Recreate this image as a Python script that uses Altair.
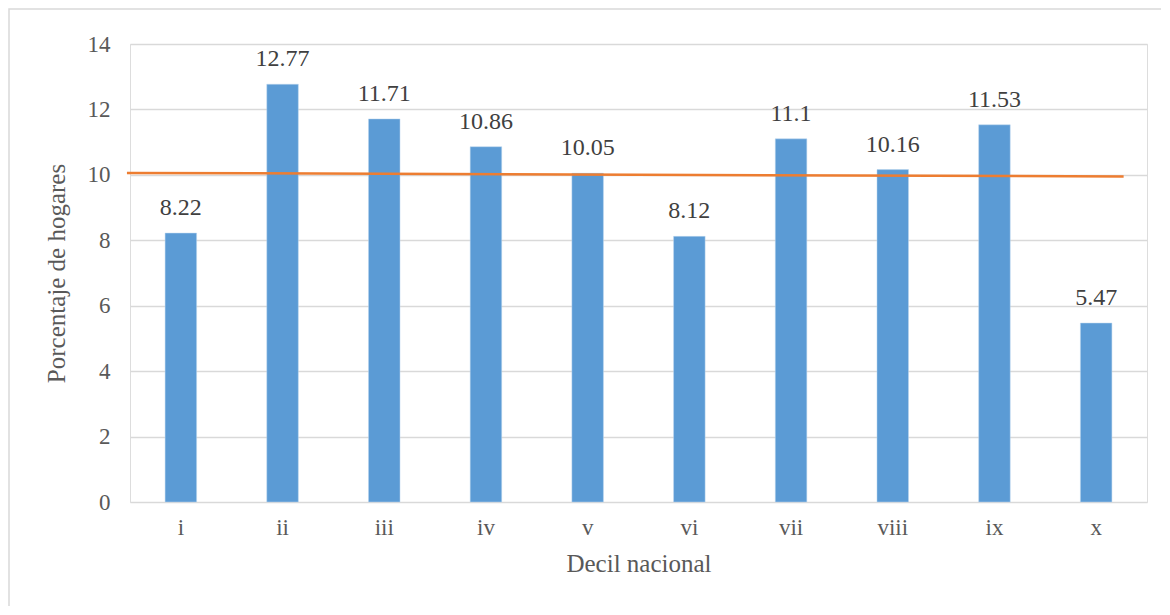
import altair as alt
import pandas as pd

deciles = ["i", "ii", "iii", "iv", "v", "vi", "vii", "viii", "ix", "x"]
values = [8.22, 12.77, 11.71, 10.86, 10.05, 8.12, 11.1, 10.16, 11.53, 5.47]
labels = ["8.22", "12.77", "11.71", "10.86", "10.05", "8.12", "11.1", "10.16", "11.53", "5.47"]

trend_x = [-0.03, 9.77]
trend_y = [10.06, 9.95]

df = pd.DataFrame({"decil": deciles, "valor": values, "etiqueta": labels})
tdf = pd.DataFrame({"pos": trend_x, "valor": trend_y})

FONT = "Times New Roman, Liberation Serif, serif"
W, H = 1017, 458

yscale = alt.Scale(domain=[0, 14])
bandscale = alt.Scale(domain=deciles, paddingInner=0.69, paddingOuter=0.345)
xband = alt.X("decil:N", sort=deciles, scale=bandscale,
              axis=alt.Axis(title="Decil nacional", labelAngle=0, ticks=False,
                            domain=False, labelPadding=14, titlePadding=12,
                            labelFontSize=23, titleFontSize=25,
                            labelColor="#595959", titleColor="#595959",
                            labelFont=FONT, titleFont=FONT, titleFontWeight="normal"))

border = alt.Chart(pd.DataFrame({"a": [0]})).mark_rect(
    fill=None, stroke="#D9D9D9", strokeWidth=1.5
).encode(x=alt.value(-121), x2=alt.value(1200), y=alt.value(-35), y2=alt.value(700))

bars = alt.Chart(df).mark_bar(color="#5B9BD5", stroke="#BDD7EE", strokeWidth=0.5).encode(
    x=xband,
    y=alt.Y("valor:Q", scale=yscale,
            axis=alt.Axis(title="Porcentaje de hogares", values=[0, 2, 4, 6, 8, 10, 12, 14],
                          ticks=False, domain=False, gridColor="#D9D9D9", gridWidth=1.5,
                          labelPadding=20, titlePadding=18,
                          labelFontSize=23, titleFontSize=25,
                          labelColor="#595959", titleColor="#595959",
                          labelFont=FONT, titleFont=FONT, titleFontWeight="normal")),
)

text = alt.Chart(df).mark_text(dy=-18, baseline="alphabetic", fontSize=24, font=FONT,
                               color="#404040").encode(
    x=alt.X("decil:N", sort=deciles, scale=bandscale),
    y=alt.Y("valor:Q", scale=yscale),
    text="etiqueta:N",
)

trend = alt.Chart(tdf).mark_line(color="#ED7D31", strokeWidth=2.5).encode(
    x=alt.X("pos:Q", scale=alt.Scale(domain=[0, 10]), axis=None),
    y=alt.Y("valor:Q", scale=yscale),
)

main = alt.layer(border, bars, text)

chart = alt.layer(main, trend).resolve_scale(x="independent").properties(
    width=W, height=H,
    autosize=alt.AutoSizeParams(type="none"),
    padding={"left": 122, "top": 36, "right": 14, "bottom": 104},
).configure_view(stroke=None).configure(background="white")

chart.save("out.html", embed_options={"renderer": "svg", "actions": False})
